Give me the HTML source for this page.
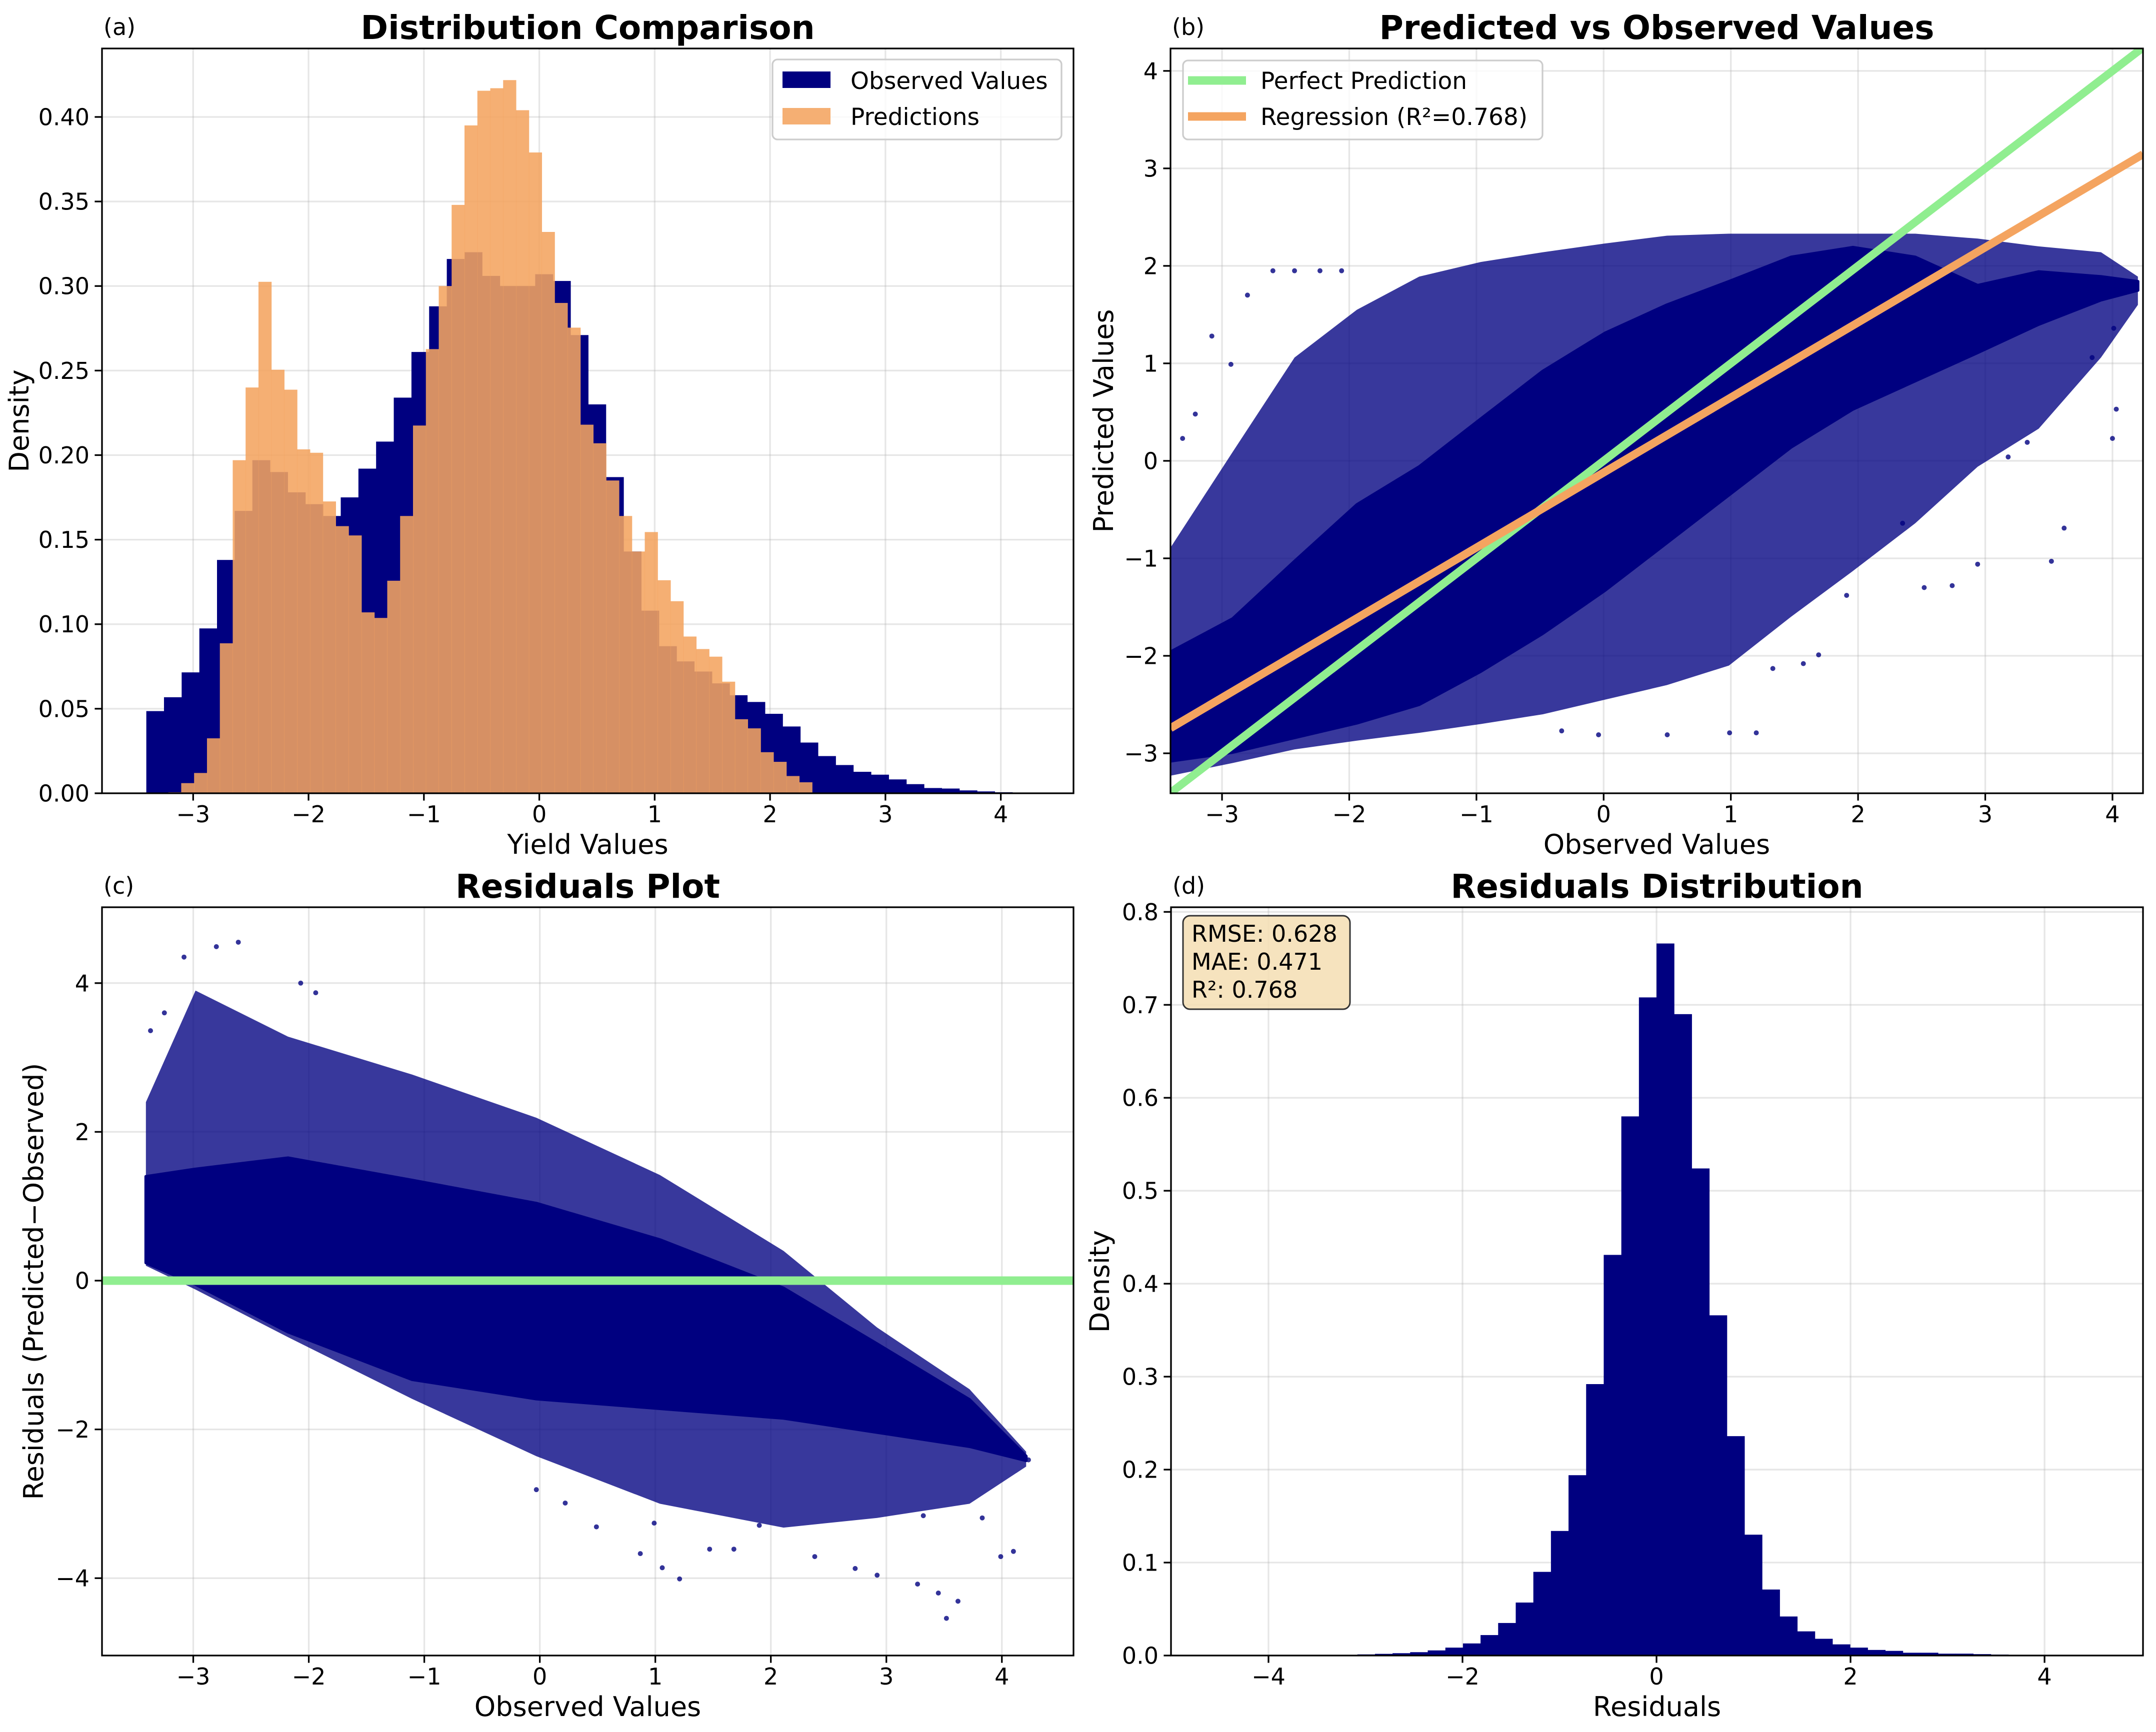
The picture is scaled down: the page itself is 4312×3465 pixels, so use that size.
<!DOCTYPE html>
<html><head><meta charset="utf-8"><title>Model Evaluation Panels</title>
<style>
html,body{margin:0;padding:0;background:#fff;}
svg{display:block;font-family:"DejaVu Sans","Liberation Sans",sans-serif;}
</style></head>
<body>
<svg id="fig" xmlns="http://www.w3.org/2000/svg" width="4312" height="3465" viewBox="0 0 4312 3465">
<rect x="0" y="0" width="4312" height="3465" fill="#fff"/>
</svg>
<script>
// ===== Panel (a) data =====
const obsStart = -3.406;
const obsWidth = 0.1532;
const obsDensity = [0.0486,0.0568,0.0715,0.0975,0.138,0.167,0.197,0.190,0.178,0.171,0.164,0.175,0.192,0.208,0.234,0.261,0.288,0.316,0.320,0.306,0.300,0.300,0.307,0.303,0.271,0.230,0.187,0.143,0.108,0.087,0.078,0.072,0.065,0.058,0.054,0.047,0.0395,0.030,0.022,0.0167,0.0127,0.011,0.0082,0.0054,0.0031,0.0028,0.0017,0.0011,0.0006];
const predStart = -3.215;
const predWidth = 0.1116;
const predDensity = [0.0006,0.006,0.012,0.0325,0.0887,0.197,0.240,0.3025,0.2505,0.2387,0.2034,0.2014,0.1726,0.158,0.1525,0.107,0.1037,0.1257,0.164,0.2175,0.2627,0.300,0.348,0.395,0.4155,0.417,0.4218,0.404,0.379,0.332,0.290,0.2754,0.218,0.207,0.185,0.164,0.143,0.1545,0.126,0.1136,0.0927,0.0853,0.0808,0.066,0.0438,0.0384,0.0243,0.0186,0.0102,0.0065];
const ticksA_x = [-3,-2,-1,0,1,2,3,4];
const ticksA_y = [0,0.05,0.10,0.15,0.20,0.25,0.30,0.35,0.40];
const tickLabelsA_y = ["0.00","0.05","0.10","0.15","0.20","0.25","0.30","0.35","0.40"];

// ===== Panel (b) data =====
const cloudB_x = [-3.405,-2.917,-2.43,-1.94,-1.45,-0.966,-0.478,0.01,0.498,0.985,1.473,1.96,2.45,2.94,3.42,3.91,4.2];
const cloudB_coreHi = [-1.96,-1.62,-1.03,-0.45,-0.06,0.43,0.92,1.31,1.6,1.84,2.09,2.19,2.09,1.80,1.94,1.89,1.84];
const cloudB_coreLo = [-3.08,-2.99,-2.84,-2.69,-2.50,-2.16,-1.77,-1.33,-0.84,-0.35,0.14,0.53,0.82,1.11,1.40,1.65,1.75];
const cloudB_fringeHi = [-0.89,0.09,1.06,1.55,1.89,2.04,2.14,2.23,2.31,2.33,2.33,2.33,2.33,2.28,2.2,2.14,1.89];
const cloudB_fringeLo = [-3.23,-3.1,-2.96,-2.87,-2.79,-2.7,-2.6,-2.45,-2.3,-2.1,-1.6,-1.13,-0.64,-0.06,0.33,1.06,1.6];
const outliersB_x = [-3.08,-2.8,-2.6,-2.43,-2.23,-2.06,-2.93,-3.21,-3.31,4.01,4.03,4.0,3.52,3.62,2.94,2.52,1.91,1.69,1.57,1.33,1.2,0.99,0.5,-0.04,-0.33,3.84,3.33,3.18,2.74,2.35];
const outliersB_y = [1.28,1.70,1.95,1.95,1.95,1.95,0.99,0.48,0.23,1.36,0.53,0.23,-1.03,-0.69,-1.06,-1.30,-1.38,-1.99,-2.08,-2.13,-2.79,-2.79,-2.81,-2.81,-2.77,1.06,0.19,0.04,-1.28,-0.64];
const regSlope = 0.77;
const regIntercept = -0.12;
const ticksB = [-3,-2,-1,0,1,2,3,4];

// ===== Panel (c) data =====
const cloudC_x = [-3.41,-2.98,-2.18,-1.105,-0.03,1.04,2.11,2.92,3.72,4.21];
const cloudC_coreHi = [1.4,1.5,1.65,1.35,1.04,0.55,-0.1,-0.85,-1.6,-2.36];
const cloudC_coreLo = [0.24,-0.05,-0.69,-1.33,-1.59,-1.72,-1.85,-2.04,-2.23,-2.42];
const cloudC_fringeHi = [2.4,3.9,3.28,2.77,2.19,1.42,0.4,-0.63,-1.46,-2.3];
const cloudC_fringeLo = [0.2,-0.12,-0.76,-1.59,-2.36,-3.0,-3.32,-3.19,-3.0,-2.5];
const outliersC_x = [-3.08,-2.8,-2.61,-2.07,-1.94,-3.37,-3.25,-0.03,0.22,0.49,0.87,1.06,1.21,1.47,1.68,2.38,2.73,2.92,3.27,3.45,3.52,3.62,3.99,4.1,3.83,4.23,3.32,1.9,0.99];
const outliersC_y = [4.35,4.49,4.55,4.0,3.87,3.36,3.6,-2.81,-2.99,-3.31,-3.67,-3.86,-4.01,-3.61,-3.61,-3.71,-3.87,-3.96,-4.08,-4.2,-4.54,-4.31,-3.71,-3.64,-3.19,-2.41,-3.16,-3.29,-3.26];
const ticksC_x = [-3,-2,-1,0,1,2,3,4];
const ticksC_y = [-4,-2,0,2,4];

// ===== Panel (d) data =====
const resStart = -3.628;
const resWidth = 0.1814;
const resDensity = [0.0003,0.0005,0.0008,0.0012,0.0018,0.0025,0.0036,0.0055,0.0085,0.013,0.022,0.035,0.057,0.090,0.134,0.194,0.292,0.431,0.580,0.708,0.766,0.690,0.524,0.366,0.236,0.130,0.071,0.042,0.026,0.018,0.012,0.0085,0.006,0.005,0.003,0.003,0.002,0.002,0.0015,0.001,0.0008,0.0005,0.0005,0.0003,0.0002];
const ticksD_x = [-4,-2,0,2,4];
const ticksD_y = [0,0.1,0.2,0.3,0.4,0.5,0.6,0.7,0.8];
const tickLabelsD_y = ["0.0","0.1","0.2","0.3","0.4","0.5","0.6","0.7","0.8"];

const NS = "http://www.w3.org/2000/svg";
const svg = document.getElementById("fig");
function mk(tag, attrs, parent){
  const e = document.createElementNS(NS, tag);
  for (const k in attrs) e.setAttribute(k, attrs[k]);
  (parent||svg).appendChild(e);
  return e;
}
function fmt(v){ return (v<0? "\u2212"+Math.abs(v) : String(v)); }

const NAVY = "#000080", SANDY = "#F4A460", GREEN = "#90EE90";
const FS_TICK = 46, FS_LAB = 54, FS_TITLE = 66;

function makePanel(p){
  p.sx = v => p.x0 + (v - p.xmin) / (p.xmax - p.xmin) * (p.x1 - p.x0);
  p.sy = v => p.y1 - (v - p.ymin) / (p.ymax - p.ymin) * (p.y1 - p.y0);
  const g = mk("g", {});
  
  
  p.g = g;
  const cp = mk("clipPath", {id: "clip-" + p.name}, g);
  mk("rect", {x:p.x0, y:p.y0, width:p.x1-p.x0, height:p.y1-p.y0}, cp);
  const grid = mk("g", {stroke:"#b0b0b0", "stroke-opacity":"0.32", "stroke-width":"3.3"}, g);
  
  
  p.xticks.forEach(t => mk("line", {x1:p.sx(t), x2:p.sx(t), y1:p.y0, y2:p.y1}, grid));
  p.yticks.forEach(t => mk("line", {x1:p.x0, x2:p.x1, y1:p.sy(t), y2:p.sy(t)}, grid));
  p.plot = mk("g", {"clip-path": "url(#clip-" + p.name + ")"}, g);
  
  
  return p;
}
function finishPanel(p){
  const g = p.g;
  const spine = mk("rect", {x:p.x0, y:p.y0, width:p.x1-p.x0, height:p.y1-p.y0, fill:"none", stroke:"#000", "stroke-width":"3.3"}, g);
  
  
  const xt = mk("g", {}, g);
  
  
  p.xticks.forEach((t,i) => {
    const x = p.sx(t);
    mk("line", {x1:x, x2:x, y1:p.y1, y2:p.y1+14.6, stroke:"#000", "stroke-width":"3.3"}, xt);
    const tx = mk("text", {x:x, y:p.y1+58, "font-size":FS_TICK, "text-anchor":"middle", fill:"#000"}, xt);
    tx.textContent = p.xlabels ? p.xlabels[i] : fmt(t);
    
    
  });
  const yt = mk("g", {}, g);
  
  
  p.yticks.forEach((t,i) => {
    const y = p.sy(t);
    mk("line", {x1:p.x0-14.6, x2:p.x0, y1:y, y2:y, stroke:"#000", "stroke-width":"3.3"}, yt);
    const tx = mk("text", {x:p.x0-25, y:y+16.5, "font-size":FS_TICK, "text-anchor":"end", fill:"#000"}, yt);
    tx.textContent = p.ylabels ? p.ylabels[i] : fmt(t);
    
    
  });
  const xl = mk("text", {x:(p.x0+p.x1)/2, y:p.y1+121, "font-size":FS_LAB, "text-anchor":"middle"}, g);
  xl.textContent = p.xtitle;
  
  
  const yc = (p.y0+p.y1)/2;
  const yl = mk("text", {x:p.ylabX, y:yc, "font-size":FS_LAB, "text-anchor":"middle", transform:"rotate(-90 "+p.ylabX+" "+yc+")"}, g);
  yl.textContent = p.ytitle;
  
  
  const tt = mk("text", {x:(p.x0+p.x1)/2, y:p.y0-19, "font-size":FS_TITLE, "font-weight":"bold", "text-anchor":"middle"}, g);
  tt.textContent = p.title;
  
  
  const pl = mk("text", {x:p.x0+3, y:p.y0-27, "font-size":46}, g);
  pl.textContent = p.tag;
  
  
}
function bars(p, start, width, vals, fill, opacity, nm){
  vals.forEach((v,i) => {
    const a = start + i*width, b = a + width;
    const r = mk("rect", {x:p.sx(a), y:p.sy(v), width:p.sx(b)-p.sx(a)+0.5, height:p.sy(0)-p.sy(v), fill:fill, "fill-opacity":opacity}, p.plot);
    
    
  });
}
function band(p, xs, hi, lo, opacity, strokeW, nm){
  let d = "";
  xs.forEach((x,i) => { d += (i? "L":"M") + p.sx(x).toFixed(1) + " " + p.sy(hi[i]).toFixed(1) + " "; });
  for (let i = xs.length-1; i >= 0; i--) d += "L" + p.sx(xs[i]).toFixed(1) + " " + p.sy(lo[i]).toFixed(1) + " ";
  const attrs = {d:d+"Z", fill:NAVY, "fill-opacity":opacity, "stroke-linejoin":"round"};
  if (strokeW > 0) { attrs.stroke = NAVY; attrs["stroke-width"] = strokeW; } else { attrs.stroke = "none"; }
  const e = mk("path", attrs, p.plot);
  
  
}
function points(p, xs, ys, nm){
  xs.forEach((x,i) => {
    const c = mk("circle", {cx:p.sx(x), cy:p.sy(ys[i]), r:"5", fill:NAVY, "fill-opacity":"0.8"}, p.plot);
    
    
  });
}

// ---------- Panel A ----------
const A = makePanel({name:"distribution", x0:204, x1:2147, y0:97, y1:1587, xmin:-3.79, xmax:4.63, ymin:0, ymax:0.4405,
  xticks:ticksA_x, yticks:ticksA_y, ylabels:tickLabelsA_y, xtitle:"Yield Values", ytitle:"Density", ylabX:57,
  title:"Distribution Comparison", tag:"(a)"});
bars(A, obsStart, obsWidth, obsDensity, NAVY, 1, "observed-bar");
bars(A, predStart, predWidth, predDensity, SANDY, 0.88, "prediction-bar");
finishPanel(A);
{
  const lg = mk("g", {});
  
  
  mk("rect", {x:1545, y:119, width:578, height:160, rx:10, fill:"#fff", "fill-opacity":"0.8", stroke:"#cccccc", "stroke-width":"3.3"}, lg);
  const e1 = mk("g", {}, lg);
  
  
  mk("rect", {x:1565, y:143, width:96, height:33, fill:NAVY}, e1);
  const t1 = mk("text", {x:1701, y:178, "font-size":47}, e1); t1.textContent = "Observed Values";
  const e2 = mk("g", {}, lg);
  
  
  mk("rect", {x:1565, y:216, width:96, height:33, fill:SANDY, "fill-opacity":"0.88"}, e2);
  const t2 = mk("text", {x:1701, y:250, "font-size":47}, e2); t2.textContent = "Predictions";
}

// ---------- Panel B ----------
const B = makePanel({name:"pred-vs-obs", x0:2341, x1:4286, y0:97, y1:1587, xmin:-3.405, xmax:4.24, ymin:-3.41, ymax:4.23,
  xticks:ticksB, yticks:ticksB, xtitle:"Observed Values", ytitle:"Predicted Values", ylabX:2226,
  title:"Predicted vs Observed Values", tag:"(b)"});
band(B, cloudB_x, cloudB_fringeHi, cloudB_fringeLo, 0.78, 0, "scatter-fringe");
band(B, cloudB_x, cloudB_coreHi, cloudB_coreLo, 1, 6, "scatter-core");
points(B, outliersB_x, outliersB_y, "scatter-point");
{
  const pp = mk("line", {x1:B.sx(B.xmin), y1:B.sy(B.xmin), x2:B.sx(B.xmax), y2:B.sy(B.xmax), stroke:GREEN, "stroke-width":"16"}, B.plot);
  
  
  const rl = mk("line", {x1:B.sx(B.xmin), y1:B.sy(regSlope*B.xmin+regIntercept), x2:B.sx(B.xmax), y2:B.sy(regSlope*B.xmax+regIntercept), stroke:SANDY, "stroke-width":"16"}, B.plot);
  
  
}
finishPanel(B);
{
  const lg = mk("g", {});
  
  
  mk("rect", {x:2366, y:121, width:719, height:158, rx:10, fill:"#fff", "fill-opacity":"0.8", stroke:"#cccccc", "stroke-width":"3.3"}, lg);
  const e1 = mk("g", {}, lg);
  
  
  mk("line", {x1:2376, x2:2492, y1:161, y2:161, stroke:GREEN, "stroke-width":"17"}, e1);
  const t1 = mk("text", {x:2521, y:178, "font-size":47}, e1); t1.textContent = "Perfect Prediction";
  const e2 = mk("g", {}, lg);
  
  
  mk("line", {x1:2376, x2:2492, y1:233, y2:233, stroke:SANDY, "stroke-width":"17"}, e2);
  const t2 = mk("text", {x:2521, y:250, "font-size":47}, e2); t2.textContent = "Regression (R\u00B2=0.768)";
}

// ---------- Panel C ----------
const C = makePanel({name:"residuals-plot", x0:204, x1:2147, y0:1815, y1:3312, xmin:-3.79, xmax:4.62, ymin:-5.04, ymax:5.02,
  xticks:ticksC_x, yticks:ticksC_y, xtitle:"Observed Values", ytitle:"Residuals (Predicted\u2212Observed)", ylabX:86,
  title:"Residuals Plot", tag:"(c)"});
band(C, cloudC_x, cloudC_fringeHi, cloudC_fringeLo, 0.78, 0, "scatter-fringe");
band(C, cloudC_x, cloudC_coreHi, cloudC_coreLo, 1, 6, "scatter-core");
points(C, outliersC_x, outliersC_y, "scatter-point");
{
  const zl = mk("line", {x1:C.x0, x2:C.x1, y1:C.sy(0), y2:C.sy(0), stroke:GREEN, "stroke-width":"17"}, C.plot);
  
  
}
finishPanel(C);

// ---------- Panel D ----------
const D = makePanel({name:"residuals-distribution", x0:2342, x1:4286, y0:1815, y1:3312, xmin:-5.005, xmax:5.015, ymin:0, ymax:0.805,
  xticks:ticksD_x, yticks:ticksD_y, ylabels:tickLabelsD_y, xtitle:"Residuals", ytitle:"Density", ylabX:2218,
  title:"Residuals Distribution", tag:"(d)"});
bars(D, resStart, resWidth, resDensity, NAVY, 1, "residual-bar");
finishPanel(D);
{
  const sb = mk("g", {});
  
  
  mk("rect", {x:2366, y:1832, width:334, height:187, rx:14, fill:"#F5DEB3", "fill-opacity":"0.85", stroke:"#333", "stroke-width":"3"}, sb);
  const lines = ["RMSE: 0.628", "MAE: 0.471", "R\u00B2: 0.768"];
  lines.forEach((s,i) => {
    const t = mk("text", {x:2383, y:1884+i*56, "font-size":46}, sb);
    t.textContent = s;
    
    
  });
}
</script>
</body></html>
